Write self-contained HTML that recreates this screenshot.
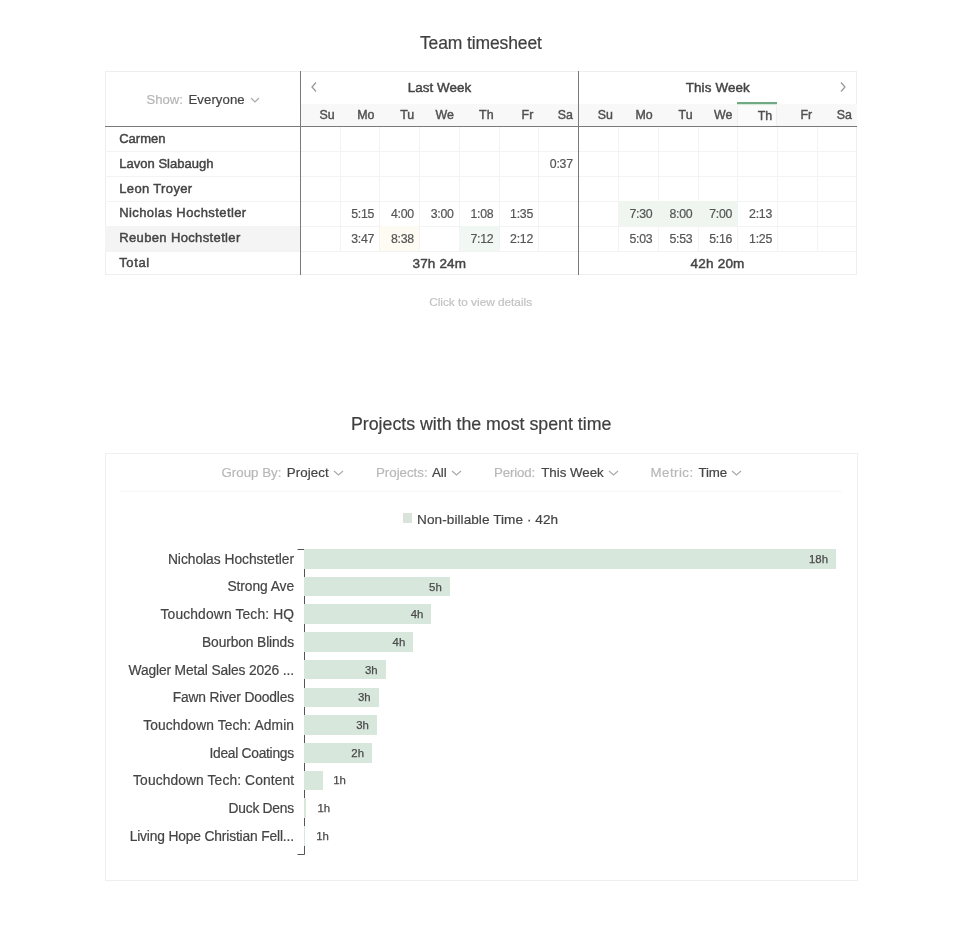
<!DOCTYPE html>
<html><head><meta charset="utf-8"><style>
html,body{margin:0;padding:0;background:#fff;}
body{width:960px;height:946px;position:relative;overflow:hidden;font-family:"Liberation Sans",sans-serif;}
.t{position:absolute;white-space:nowrap;line-height:20px;}
.r{position:absolute;}
#w{position:absolute;left:0;top:0;width:960px;height:946px;will-change:transform;}
</style></head><body><div id="w">
<div class="t" style="left:420.00px;top:33px;font-size:17.5px;color:#3f3f3f;letter-spacing:-0.126px;-webkit-text-stroke:0.2px #3f3f3f;">Team timesheet</div>
<div class="r" style="left:104.5px;top:70.5px;width:752px;height:204px;border:1px solid #eeeeee;box-sizing:border-box"></div>
<div class="r" style="left:300px;top:104px;width:557px;height:22px;background:#f8f8f8;"></div>
<div class="r" style="left:105px;top:151px;width:751px;height:1px;background:#f3f3f3;"></div>
<div class="r" style="left:105px;top:176px;width:751px;height:1px;background:#f3f3f3;"></div>
<div class="r" style="left:105px;top:201px;width:751px;height:1px;background:#f3f3f3;"></div>
<div class="r" style="left:105px;top:226px;width:751px;height:1px;background:#f3f3f3;"></div>
<div class="r" style="left:105px;top:251px;width:751px;height:1px;background:#f3f3f3;"></div>
<div class="r" style="left:340px;top:127px;width:1px;height:124px;background:#f3f3f3;"></div>
<div class="r" style="left:379px;top:127px;width:1px;height:124px;background:#f3f3f3;"></div>
<div class="r" style="left:419px;top:127px;width:1px;height:124px;background:#f3f3f3;"></div>
<div class="r" style="left:459px;top:127px;width:1px;height:124px;background:#f3f3f3;"></div>
<div class="r" style="left:499px;top:127px;width:1px;height:124px;background:#f3f3f3;"></div>
<div class="r" style="left:538px;top:127px;width:1px;height:124px;background:#f3f3f3;"></div>
<div class="r" style="left:618px;top:127px;width:1px;height:124px;background:#f3f3f3;"></div>
<div class="r" style="left:658px;top:127px;width:1px;height:124px;background:#f3f3f3;"></div>
<div class="r" style="left:698px;top:127px;width:1px;height:124px;background:#f3f3f3;"></div>
<div class="r" style="left:737px;top:127px;width:1px;height:124px;background:#f3f3f3;"></div>
<div class="r" style="left:777px;top:127px;width:1px;height:124px;background:#f3f3f3;"></div>
<div class="r" style="left:817px;top:127px;width:1px;height:124px;background:#f3f3f3;"></div>
<div class="r" style="left:105px;top:226px;width:195px;height:25px;background:#f4f4f4;"></div>
<div class="r" style="left:380px;top:226px;width:39px;height:25px;background:#fefcf2;"></div>
<div class="r" style="left:460px;top:226px;width:39px;height:25px;background:#f1f7f2;"></div>
<div class="r" style="left:619px;top:201px;width:39px;height:25px;background:#eef6ef;"></div>
<div class="r" style="left:659px;top:201px;width:39px;height:25px;background:#eef6ef;"></div>
<div class="r" style="left:699px;top:201px;width:39px;height:25px;background:#eef6ef;"></div>
<div class="r" style="left:105px;top:126px;width:752px;height:1px;background:#7a7a7a;"></div>
<div class="r" style="left:300px;top:71px;width:1px;height:204px;background:#7a7a7a;"></div>
<div class="r" style="left:578px;top:71px;width:1px;height:204px;background:#7a7a7a;"></div>
<div class="r" style="left:737px;top:106px;width:40px;height:20px;background:#fbfbfb;border-left:1px solid #f0f0f0;border-right:1px solid #f0f0f0;box-sizing:border-box;"></div>
<div class="r" style="left:737px;top:102px;width:40px;height:2px;background:#70aa85;"></div>
<div class="r" style="left:737px;top:104px;width:40px;height:1px;background:#d5ead9;"></div>
<div class="t" style="left:146.60px;top:90px;font-size:13.1px;color:#b5b5b5;letter-spacing:-0.026px;-webkit-text-stroke:0.2px #b5b5b5;">Show:</div>
<div class="t" style="left:188.50px;top:90px;font-size:13.2px;color:#444;letter-spacing:0.061px;-webkit-text-stroke:0.2px #444;">Everyone</div>
<svg class="r" style="left:250px;top:97px" width="10" height="6" viewBox="0 0 10 6"><path d="M1 1 L5 5 L9 1" fill="none" stroke="#aaa" stroke-width="1.2"/></svg>
<div class="t" style="left:407.73px;top:78px;font-size:13.4px;color:#444;letter-spacing:0.058px;-webkit-text-stroke:0.45px #444;">Last Week</div>
<div class="t" style="left:685.73px;top:78px;font-size:13.4px;color:#444;letter-spacing:0.135px;-webkit-text-stroke:0.45px #444;">This Week</div>
<svg class="r" style="left:310px;top:81px" width="8" height="12" viewBox="0 0 8 12"><path d="M6 1.5 L2 6 L6 10.5" fill="none" stroke="#999" stroke-width="1.3"/></svg>
<svg class="r" style="left:839px;top:81px" width="8" height="12" viewBox="0 0 8 12"><path d="M2 1.5 L6 6 L2 10.5" fill="none" stroke="#999" stroke-width="1.3"/></svg>
<div class="t" style="left:319.55px;top:105px;font-size:12.4px;color:#4f4f4f;-webkit-text-stroke:0.4px #4f4f4f;">Su</div>
<div class="t" style="left:357.20px;top:105px;font-size:12.4px;color:#4f4f4f;-webkit-text-stroke:0.4px #4f4f4f;">Mo</div>
<div class="t" style="left:400.13px;top:105px;font-size:12.4px;color:#4f4f4f;-webkit-text-stroke:0.4px #4f4f4f;">Tu</div>
<div class="t" style="left:435.48px;top:105px;font-size:12.4px;color:#4f4f4f;-webkit-text-stroke:0.4px #4f4f4f;">We</div>
<div class="t" style="left:479.10px;top:105px;font-size:12.4px;color:#4f4f4f;-webkit-text-stroke:0.4px #4f4f4f;">Th</div>
<div class="t" style="left:521.58px;top:105px;font-size:12.4px;color:#4f4f4f;-webkit-text-stroke:0.4px #4f4f4f;">Fr</div>
<div class="t" style="left:557.82px;top:105px;font-size:12.4px;color:#4f4f4f;-webkit-text-stroke:0.4px #4f4f4f;">Sa</div>
<div class="t" style="left:597.69px;top:105px;font-size:12.4px;color:#4f4f4f;-webkit-text-stroke:0.4px #4f4f4f;">Su</div>
<div class="t" style="left:635.49px;top:105px;font-size:12.4px;color:#4f4f4f;-webkit-text-stroke:0.4px #4f4f4f;">Mo</div>
<div class="t" style="left:678.56px;top:105px;font-size:12.4px;color:#4f4f4f;-webkit-text-stroke:0.4px #4f4f4f;">Tu</div>
<div class="t" style="left:714.05px;top:105px;font-size:12.4px;color:#4f4f4f;-webkit-text-stroke:0.4px #4f4f4f;">We</div>
<div class="t" style="left:757.81px;top:106px;font-size:12.4px;color:#4f4f4f;-webkit-text-stroke:0.4px #4f4f4f;">Th</div>
<div class="t" style="left:800.44px;top:105px;font-size:12.4px;color:#4f4f4f;-webkit-text-stroke:0.4px #4f4f4f;">Fr</div>
<div class="t" style="left:836.82px;top:105px;font-size:12.4px;color:#4f4f4f;-webkit-text-stroke:0.4px #4f4f4f;">Sa</div>
<div class="t" style="left:119.22px;top:129px;font-size:13.0px;color:#444;letter-spacing:0.002px;-webkit-text-stroke:0.45px #444;">Carmen</div>
<div class="t" style="left:119.22px;top:154px;font-size:13.0px;color:#444;letter-spacing:0.029px;-webkit-text-stroke:0.45px #444;">Lavon Slabaugh</div>
<div class="t" style="left:119.22px;top:179px;font-size:13.0px;color:#444;letter-spacing:0.358px;-webkit-text-stroke:0.45px #444;">Leon Troyer</div>
<div class="t" style="left:119.22px;top:203px;font-size:13.0px;color:#444;letter-spacing:0.407px;-webkit-text-stroke:0.45px #444;">Nicholas Hochstetler</div>
<div class="t" style="left:119.22px;top:228px;font-size:13.0px;color:#444;letter-spacing:0.362px;-webkit-text-stroke:0.45px #444;">Reuben Hochstetler</div>
<div class="t" style="left:119.22px;top:253px;font-size:13.0px;color:#444;letter-spacing:0.624px;-webkit-text-stroke:0.45px #444;">Total</div>
<div class="t" style="left:549.81px;top:154px;font-size:12.3px;color:#555;letter-spacing:-0.25px;-webkit-text-stroke:0.2px #555;">0:37</div>
<div class="t" style="left:351.24px;top:204px;font-size:12.3px;color:#555;letter-spacing:-0.25px;-webkit-text-stroke:0.2px #555;">5:15</div>
<div class="t" style="left:390.96px;top:204px;font-size:12.3px;color:#555;letter-spacing:-0.25px;-webkit-text-stroke:0.2px #555;">4:00</div>
<div class="t" style="left:430.67px;top:204px;font-size:12.3px;color:#555;letter-spacing:-0.25px;-webkit-text-stroke:0.2px #555;">3:00</div>
<div class="t" style="left:470.39px;top:204px;font-size:12.3px;color:#555;letter-spacing:-0.25px;-webkit-text-stroke:0.2px #555;">1:08</div>
<div class="t" style="left:510.10px;top:204px;font-size:12.3px;color:#555;letter-spacing:-0.25px;-webkit-text-stroke:0.2px #555;">1:35</div>
<div class="t" style="left:351.24px;top:229px;font-size:12.3px;color:#555;letter-spacing:-0.25px;-webkit-text-stroke:0.2px #555;">3:47</div>
<div class="t" style="left:390.96px;top:229px;font-size:12.3px;color:#555;letter-spacing:-0.25px;-webkit-text-stroke:0.2px #555;">8:38</div>
<div class="t" style="left:470.39px;top:229px;font-size:12.3px;color:#555;letter-spacing:-0.25px;-webkit-text-stroke:0.2px #555;">7:12</div>
<div class="t" style="left:510.10px;top:229px;font-size:12.3px;color:#555;letter-spacing:-0.25px;-webkit-text-stroke:0.2px #555;">2:12</div>
<div class="t" style="left:629.53px;top:204px;font-size:12.3px;color:#555;letter-spacing:-0.25px;-webkit-text-stroke:0.2px #555;">7:30</div>
<div class="t" style="left:669.39px;top:204px;font-size:12.3px;color:#555;letter-spacing:-0.25px;-webkit-text-stroke:0.2px #555;">8:00</div>
<div class="t" style="left:709.24px;top:204px;font-size:12.3px;color:#555;letter-spacing:-0.25px;-webkit-text-stroke:0.2px #555;">7:00</div>
<div class="t" style="left:749.10px;top:204px;font-size:12.3px;color:#555;letter-spacing:-0.25px;-webkit-text-stroke:0.2px #555;">2:13</div>
<div class="t" style="left:629.53px;top:229px;font-size:12.3px;color:#555;letter-spacing:-0.25px;-webkit-text-stroke:0.2px #555;">5:03</div>
<div class="t" style="left:669.39px;top:229px;font-size:12.3px;color:#555;letter-spacing:-0.25px;-webkit-text-stroke:0.2px #555;">5:53</div>
<div class="t" style="left:709.24px;top:229px;font-size:12.3px;color:#555;letter-spacing:-0.25px;-webkit-text-stroke:0.2px #555;">5:16</div>
<div class="t" style="left:749.10px;top:229px;font-size:12.3px;color:#555;letter-spacing:-0.25px;-webkit-text-stroke:0.2px #555;">1:25</div>
<div class="t" style="left:412.53px;top:254px;font-size:13.5px;color:#444;letter-spacing:0.151px;-webkit-text-stroke:0.45px #444;">37h 24m</div>
<div class="t" style="left:690.62px;top:254px;font-size:13.5px;color:#444;letter-spacing:0.201px;-webkit-text-stroke:0.45px #444;">42h 20m</div>
<div class="t" style="left:429.20px;top:292px;font-size:11.8px;color:#c2c2c2;letter-spacing:-0.003px;-webkit-text-stroke:0.2px #c2c2c2;">Click to view details</div>
<div class="t" style="left:351.00px;top:414px;font-size:17.8px;color:#3f3f3f;letter-spacing:-0.018px;-webkit-text-stroke:0.2px #3f3f3f;">Projects with the most spent time</div>
<div class="r" style="left:104.5px;top:452.5px;width:753px;height:428px;border:1px solid #efefef;box-sizing:border-box"></div>
<div class="r" style="left:120px;top:491px;width:722px;height:1px;background:#f7f7f7;"></div>
<div class="t" style="left:221.50px;top:463px;font-size:13.3px;color:#b8b8b8;letter-spacing:0.003px;-webkit-text-stroke:0.2px #b8b8b8;">Group By:</div>
<div class="t" style="left:286.70px;top:463px;font-size:13.3px;color:#444;letter-spacing:0.118px;-webkit-text-stroke:0.2px #444;">Project</div>
<svg class="r" style="left:333px;top:470px" width="11" height="6" viewBox="0 0 11 6"><path d="M1 1 L5.5 5 L10 1" fill="none" stroke="#aaa" stroke-width="1.2"/></svg>
<div class="t" style="left:376.00px;top:463px;font-size:13.3px;color:#b8b8b8;letter-spacing:-0.017px;-webkit-text-stroke:0.2px #b8b8b8;">Projects:</div>
<div class="t" style="left:431.90px;top:463px;font-size:13.3px;color:#444;letter-spacing:-0.038px;-webkit-text-stroke:0.2px #444;">All</div>
<svg class="r" style="left:451px;top:470px" width="11" height="6" viewBox="0 0 11 6"><path d="M1 1 L5.5 5 L10 1" fill="none" stroke="#aaa" stroke-width="1.2"/></svg>
<div class="t" style="left:494.10px;top:463px;font-size:13.3px;color:#b8b8b8;letter-spacing:-0.172px;-webkit-text-stroke:0.2px #b8b8b8;">Period:</div>
<div class="t" style="left:541.20px;top:463px;font-size:13.3px;color:#444;-webkit-text-stroke:0.2px #444;">This Week</div>
<svg class="r" style="left:608px;top:470px" width="11" height="6" viewBox="0 0 11 6"><path d="M1 1 L5.5 5 L10 1" fill="none" stroke="#aaa" stroke-width="1.2"/></svg>
<div class="t" style="left:650.60px;top:463px;font-size:13.3px;color:#b8b8b8;letter-spacing:0.433px;-webkit-text-stroke:0.2px #b8b8b8;">Metric:</div>
<div class="t" style="left:698.40px;top:463px;font-size:13.3px;color:#444;letter-spacing:-0.12px;-webkit-text-stroke:0.2px #444;">Time</div>
<svg class="r" style="left:730.6px;top:470px" width="11" height="6" viewBox="0 0 11 6"><path d="M1 1 L5.5 5 L10 1" fill="none" stroke="#aaa" stroke-width="1.2"/></svg>
<div class="r" style="left:403px;top:513px;width:9px;height:10px;background:#d9e3dc;"></div>
<div class="t" style="left:417.10px;top:510px;font-size:13.6px;color:#444;letter-spacing:0.057px;-webkit-text-stroke:0.2px #444;">Non-billable Time · 42h</div>
<svg class="r" style="left:0;top:0" width="960" height="946"><path d="M297.5,549.5H304.5V854.5H297.5" fill="none" stroke="#555" stroke-width="1"/></svg>
<div class="t" style="left:167.90px;top:550px;font-size:13.8px;color:#444;letter-spacing:-0.018px;-webkit-text-stroke:0.2px #444;">Nicholas Hochstetler</div>
<div class="r" style="left:304px;top:549.0px;width:532px;height:19.5px;background:#d7e7dc;"></div>
<div class="t" style="left:808.98px;top:549px;font-size:11.4px;color:#4a4a4a;-webkit-text-stroke:0.25px #4a4a4a;">18h</div>
<div class="t" style="left:227.40px;top:577px;font-size:13.8px;color:#444;letter-spacing:-0.062px;-webkit-text-stroke:0.2px #444;">Strong Ave</div>
<div class="r" style="left:304px;top:576.72px;width:145.8px;height:19.5px;background:#d7e7dc;"></div>
<div class="t" style="left:429.12px;top:577px;font-size:11.4px;color:#4a4a4a;-webkit-text-stroke:0.25px #4a4a4a;">5h</div>
<div class="t" style="left:160.50px;top:605px;font-size:13.8px;color:#444;letter-spacing:0.158px;-webkit-text-stroke:0.2px #444;">Touchdown Tech: HQ</div>
<div class="r" style="left:304px;top:604.44px;width:127.4px;height:19.5px;background:#d7e7dc;"></div>
<div class="t" style="left:410.72px;top:604px;font-size:11.4px;color:#4a4a4a;-webkit-text-stroke:0.25px #4a4a4a;">4h</div>
<div class="t" style="left:202.00px;top:633px;font-size:13.8px;color:#444;letter-spacing:-0.115px;-webkit-text-stroke:0.2px #444;">Bourbon Blinds</div>
<div class="r" style="left:304px;top:632.16px;width:109.3px;height:19.5px;background:#d7e7dc;"></div>
<div class="t" style="left:392.62px;top:632px;font-size:11.4px;color:#4a4a4a;-webkit-text-stroke:0.25px #4a4a4a;">4h</div>
<div class="t" style="left:128.50px;top:661px;font-size:13.8px;color:#444;letter-spacing:-0.131px;-webkit-text-stroke:0.2px #444;">Wagler Metal Sales 2026 ...</div>
<div class="r" style="left:304px;top:659.88px;width:81.6px;height:19.5px;background:#d7e7dc;"></div>
<div class="t" style="left:364.92px;top:660px;font-size:11.4px;color:#4a4a4a;-webkit-text-stroke:0.25px #4a4a4a;">3h</div>
<div class="t" style="left:172.70px;top:688px;font-size:13.8px;color:#444;letter-spacing:-0.167px;-webkit-text-stroke:0.2px #444;">Fawn River Doodles</div>
<div class="r" style="left:304px;top:687.6px;width:74.6px;height:19.5px;background:#d7e7dc;"></div>
<div class="t" style="left:357.92px;top:687px;font-size:11.4px;color:#4a4a4a;-webkit-text-stroke:0.25px #4a4a4a;">3h</div>
<div class="t" style="left:143.20px;top:716px;font-size:13.8px;color:#444;letter-spacing:0.116px;-webkit-text-stroke:0.2px #444;">Touchdown Tech: Admin</div>
<div class="r" style="left:304px;top:715.32px;width:72.9px;height:19.5px;background:#d7e7dc;"></div>
<div class="t" style="left:356.22px;top:715px;font-size:11.4px;color:#4a4a4a;-webkit-text-stroke:0.25px #4a4a4a;">3h</div>
<div class="t" style="left:209.50px;top:744px;font-size:13.8px;color:#444;letter-spacing:-0.279px;-webkit-text-stroke:0.2px #444;">Ideal Coatings</div>
<div class="r" style="left:304px;top:743.04px;width:68px;height:19.5px;background:#d7e7dc;"></div>
<div class="t" style="left:351.32px;top:743px;font-size:11.4px;color:#4a4a4a;-webkit-text-stroke:0.25px #4a4a4a;">2h</div>
<div class="t" style="left:133.10px;top:771px;font-size:13.8px;color:#444;letter-spacing:0.111px;-webkit-text-stroke:0.2px #444;">Touchdown Tech: Content</div>
<div class="r" style="left:304px;top:770.76px;width:18.6px;height:19.5px;background:#d7e7dc;"></div>
<div class="t" style="left:333.20px;top:770px;font-size:11.4px;color:#4a4a4a;-webkit-text-stroke:0.25px #4a4a4a;">1h</div>
<div class="t" style="left:228.60px;top:799px;font-size:13.8px;color:#444;letter-spacing:-0.249px;-webkit-text-stroke:0.2px #444;">Duck Dens</div>
<div class="r" style="left:304px;top:798.48px;width:2.3px;height:19.5px;background:#d7e7dc;"></div>
<div class="t" style="left:317.50px;top:798px;font-size:11.4px;color:#4a4a4a;-webkit-text-stroke:0.25px #4a4a4a;">1h</div>
<div class="t" style="left:129.70px;top:827px;font-size:13.8px;color:#444;letter-spacing:-0.155px;-webkit-text-stroke:0.2px #444;">Living Hope Christian Fell...</div>
<div class="r" style="left:304px;top:826.2px;width:1px;height:19.5px;background:#d7e7dc;"></div>
<div class="t" style="left:316.20px;top:826px;font-size:11.4px;color:#4a4a4a;-webkit-text-stroke:0.25px #4a4a4a;">1h</div>
</div></body></html>
